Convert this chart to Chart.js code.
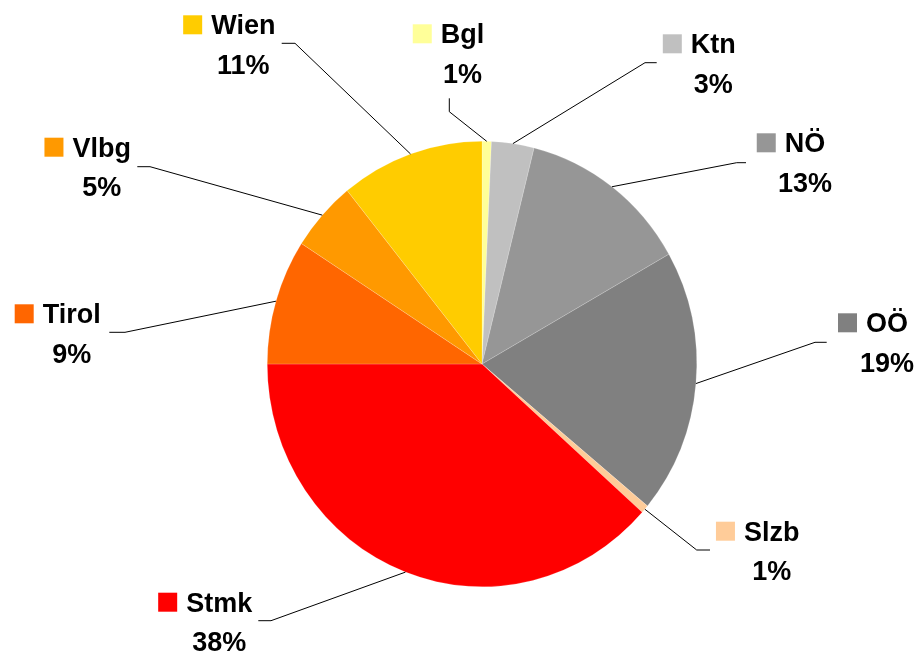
<!DOCTYPE html>
<html>
<head>
<meta charset="utf-8">
<script src="https://cdn.jsdelivr.net/npm/chart.js@4.4.1/dist/chart.umd.min.js"></script>
<style>
  html, body { margin: 0; padding: 0; background: #fff; }
  #chart { display: block; }
</style>
</head>
<body>
<canvas id="chart" width="917" height="655"></canvas>
<script>
// Data (Anteile in %)
const bundeslaender = ["Bgl", "Ktn", "NÖ", "OÖ", "Slzb", "Stmk", "Tirol", "Vlbg", "Wien"];
const anteile = [0.7, 3.2, 12.9, 19.2, 0.6, 38.4, 9.1, 5.1, 10.8];
const farben = ["#FFFF99", "#C0C0C0", "#969696", "#808080", "#FFCC99", "#FF0000", "#FF6600", "#FF9900", "#FFCC00"];

// label placement (name centre x, name baseline y) and leader bends
const labelPos = [
  [462.5, 43.3], [713.3, 53.3], [805, 152.3], [887, 332.3], [771.7, 540.7],
  [219.2, 611.7], [71.7, 323.3], [101.7, 156.7], [243.3, 34.3]
];
const leaderBends = [
  [[449.3, 111.7], [449.3, 98.3]],
  [[645, 62.7], [656.7, 62.7]],
  [[736.7, 162.7], [746, 162.7]],
  [[815, 342.3], [826.7, 342.3]],
  [[696.7, 550], [710, 550]],
  [[271, 620.7], [258.3, 620.7]],
  [[125, 332.3], [109.3, 332.3]],
  [[150, 166.7], [137.3, 166.7]],
  [[295, 43.3], [281.7, 43.3]]
];

const STRETCH_Y = 223 / 215;   // pie in the original is slightly taller than wide
const FONT = "bold 27px 'Liberation Sans', Arial, sans-serif";

/* =======================
   ELLIPSE + LABELS
======================= */
const pieLabels = {
  id: "pieLabels",
  beforeDatasetsDraw(chart) {
    const arc = chart.getDatasetMeta(0).data[0];
    const ctx = chart.ctx;
    ctx.save();
    ctx.translate(arc.x, arc.y);
    ctx.scale(1, STRETCH_Y);
    ctx.translate(-arc.x, -arc.y);
  },
  afterDatasetsDraw(chart) {
    const ctx = chart.ctx;
    ctx.restore();

    const total = anteile.reduce((a, b) => a + b, 0);
    const arcs = chart.getDatasetMeta(0).data;

    // leader lines
    ctx.save();
    ctx.strokeStyle = "#000";
    ctx.lineWidth = 1;
    arcs.forEach((a, i) => {
      const mid = (a.startAngle + a.endAngle) / 2;
      const px = a.x + a.outerRadius * Math.cos(mid);
      const py = a.y + a.outerRadius * Math.sin(mid) * STRETCH_Y;
      const [elbow, tail] = leaderBends[i];
      ctx.beginPath();
      ctx.moveTo(px, py);
      ctx.lineTo(elbow[0], elbow[1]);
      ctx.lineTo(tail[0], tail[1]);
      ctx.stroke();
    });
    ctx.restore();

    // labels with colour key
    ctx.save();
    ctx.font = FONT;
    ctx.fillStyle = "#000";
    ctx.textAlign = "center";
    ctx.textBaseline = "alphabetic";
    bundeslaender.forEach((name, i) => {
      const [cx, by] = labelPos[i];
      const w = ctx.measureText(name).width;
      ctx.fillStyle = farben[i];
      ctx.fillRect(cx - w / 2 - 9 - 19, by - 19, 19, 19);
      ctx.fillStyle = "#000";
      ctx.fillText(name, cx, by);
      const pct = Math.round(anteile[i] / total * 100) + "%";
      ctx.fillText(pct, cx, by + 39.4);
    });
    ctx.restore();
  }
};

new Chart(document.getElementById("chart"), {
  type: "pie",
  data: {
    labels: bundeslaender,
    datasets: [{
      data: anteile,
      backgroundColor: farben,
      borderColor: "rgba(255,255,255,0.35)",
      borderWidth: 0.5,
      hoverOffset: 0,
      offset: 0,
      clip: false
    }]
  },
  options: {
    responsive: false,
    animation: false,
    events: [],
    devicePixelRatio: 1,
    layout: { padding: { left: 267, right: 220, top: 149, bottom: 76 } },
    plugins: {
      legend: { display: false },
      tooltip: { enabled: false }
    }
  },
  plugins: [pieLabels]
});
</script>
</body>
</html>
